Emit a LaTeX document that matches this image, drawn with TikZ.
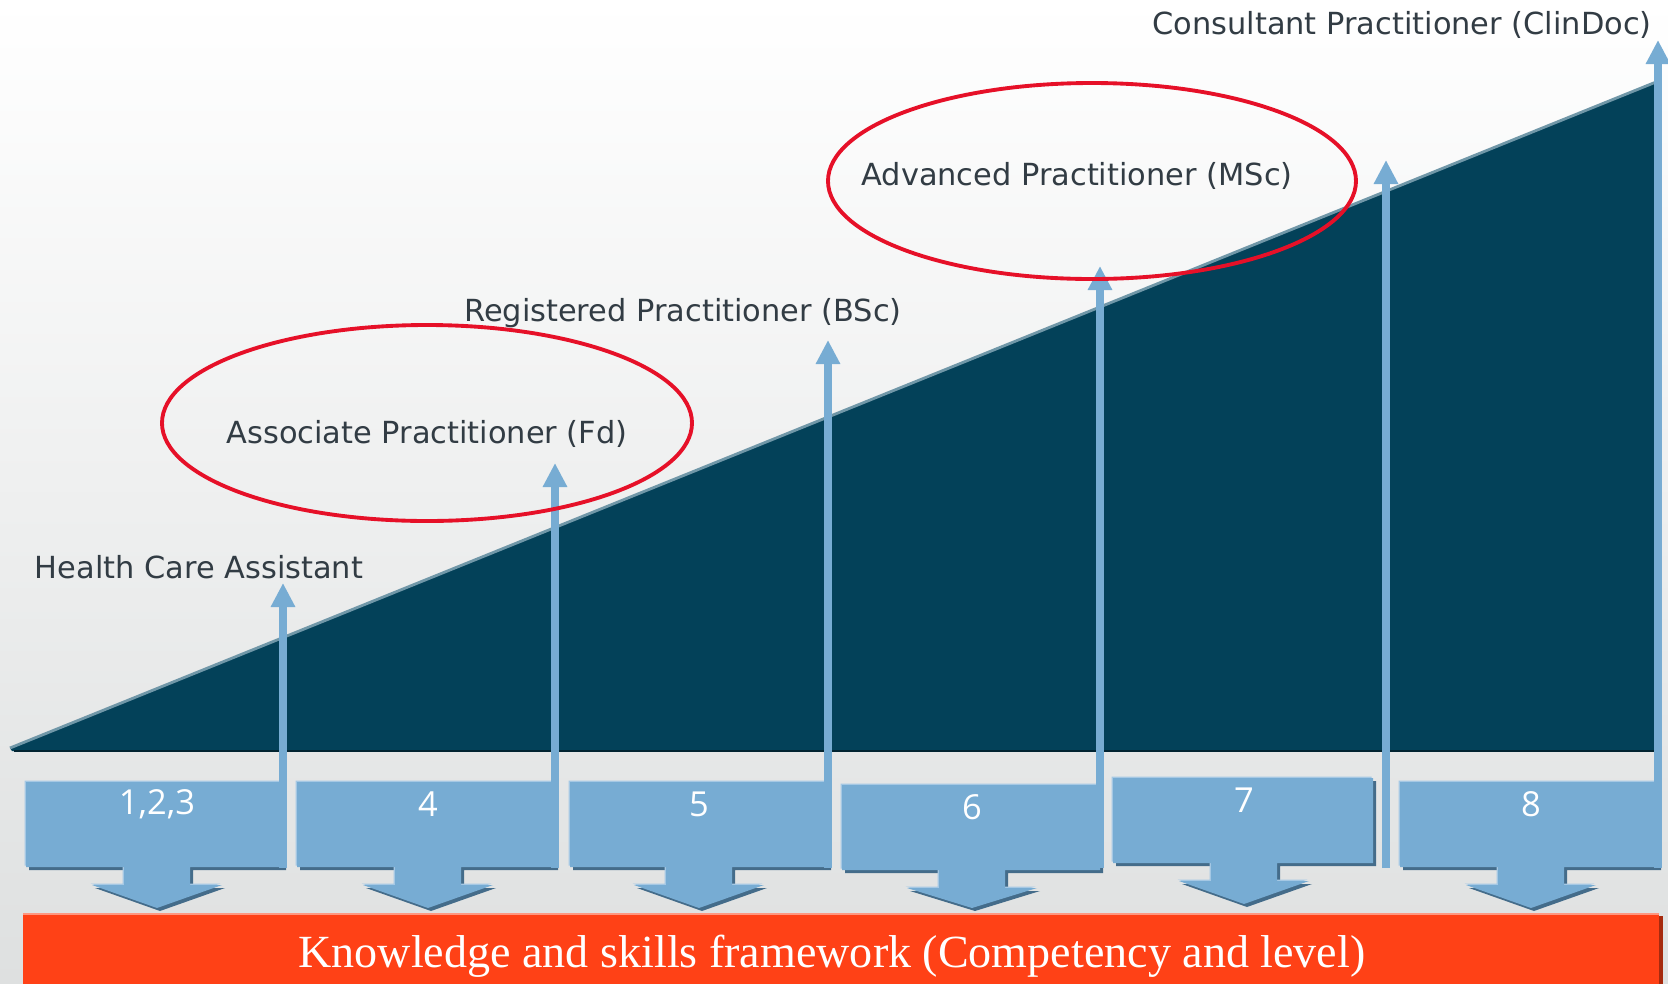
\documentclass[tikz,border=0pt]{standalone}
\usepackage{fontspec}
\setmainfont{Liberation Serif}
\setsansfont{DejaVu Sans}
\newfontfamily\digitfont{Open Sans}
\usepackage{xcolor}
\usepackage{tikz}
\usetikzlibrary{arrows.meta}
\definecolor{ladderNavy}{RGB}{3, 65, 89}
\definecolor{ladderEdge}{RGB}{112, 151, 168}
\definecolor{ladderBlue}{RGB}{119, 172, 211}
\definecolor{ladderLight}{RGB}{165, 200, 228}
\definecolor{ladderShadow}{RGB}{68, 108, 138}
\definecolor{ladderRed}{RGB}{230, 16, 40}
\definecolor{ladderOrange}{RGB}{255, 65, 22}
\definecolor{ladderText}{RGB}{50, 60, 68}
\definecolor{ladderGrey}{RGB}{222, 224, 224}

\tikzset{
  role/.style={font=\sffamily\fontsize{8.65}{10}\selectfont, text=ladderText, inner sep=0pt, anchor=base},
  level/.style={font=\digitfont\fontsize{9.8}{11}\selectfont, text=white, inner sep=0pt},
  ring/.style={draw=ladderRed, line width=1.1pt},
  upArrow/.style={draw=ladderBlue, line width=2.3pt, -{Triangle[width=0.23cm,length=0.24cm]}},
  levelFill/.style={fill=ladderBlue,
    preaction={fill=ladderShadow, transform canvas={shift={(3,3)}}},
    preaction={fill=ladderLight, transform canvas={shift={(-1.5,-1.5)}}}},
}

\begin{document}
\begin{tikzpicture}[x=0.01cm, y=-0.01cm]
\useasboundingbox (0,0) rectangle (1668,984);
% Background
\shade[top color=white, middle color=ladderGrey!30!white, bottom color=ladderGrey] (0,0) rectangle (1668,984);

% Rising triangle
\fill[ladderNavy] (10,748) -- (1656,82) -- (1656,751) -- (12,751) -- cycle;
\draw[ladderEdge, line width=0.8pt] (10,748) -- (1656,82);
\draw[ladderNavy!55!black, line width=0.6pt] (14,751) -- (1656,751);

% Level boxes with down arrows, and the shafts going up
\foreach \l/\r/\t/\b/\c/\txt/\sx/\ty/\h [count=\i] in {
    26/283/782/867/157/{1,2,3}/283/583/41,
    297/555/782/867/428/4/555/463/41,
    570/828/782/867/699/5/828/340/41,
    842/1100/785/870/972/6/1100/266/38,
    1113/1373/778/863/1244/7/1386/160/41,
    1400/1658/782/867/1531/8/1658/40/41} {
  \fill[levelFill] (\l,\t) -- (\r,\t) -- (\r,\b) -- (\c+33,\b) -- (\c+33,\b+18)
    -- (\c+65,\b+18) -- (\c,\b+\h) -- (\c-65,\b+18) -- (\c-33,\b+18)
    -- (\c-33,\b) -- (\l,\b) -- cycle;
  \node[level] (lv\i) at (\c,\t+22) {\txt};
  \coordinate (base\i) at (\sx,868);
  \coordinate (tip\i) at (\sx,\ty);
  \draw[upArrow] (base\i) -- (tip\i);
}

% Roles
\node[role] (hca) at (199,578) {Health Care Assistant};
\node[role] (assoc) at (427,443) {Associate Practitioner (Fd)};
\node[role] (reg) at (683,321) {Registered Practitioner (BSc)};
\node[role] (adv) at (1077,185) {Advanced Practitioner (MSc)};
\node[role] (cons) at (1402,34) {Consultant Practitioner (ClinDoc)};

% Highlight rings
\draw[ring] (427,423) ellipse [x radius=265, y radius=98];
\draw[ring] (1092,181) ellipse [x radius=264, y radius=98];

% Framework banner
\fill[ladderOrange!65!black] (1658,916) rectangle (1663,984);
\fill[ladderOrange] (23,913) rectangle (1659,984);
\draw[ladderOrange!55!white, line width=0.7pt] (23,914) -- (1659,914);
\node[text=white, font=\fontsize{13.1}{16}\selectfont, inner sep=0pt, anchor=base] (ksf) at (832,967)
  {Knowledge and skills framework (Competency and level)};
\end{tikzpicture}
\end{document}
